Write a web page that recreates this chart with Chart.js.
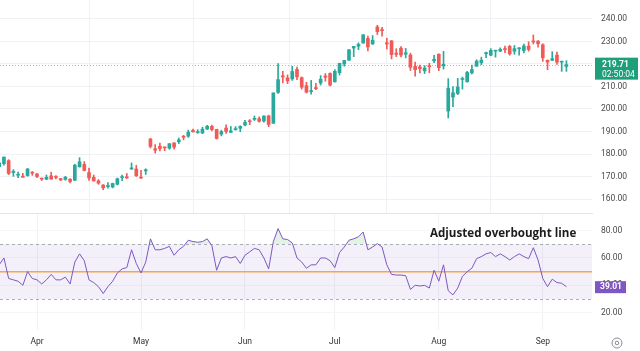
<!DOCTYPE html>
<html>
<head>
<meta charset="utf-8">
<script src="https://cdn.jsdelivr.net/npm/chart.js@4.4.0/dist/chart.umd.min.js"></script>
<style>
  html, body { margin: 0; padding: 0; background: #fff; }
  canvas { display: block; }
</style>
</head>
<body>
<canvas id="priceChart" width="640" height="214"></canvas>
<canvas id="rsiChart" width="640" height="137"></canvas>
<script>
// daily candles, Mar 19 -> Sep 10 (index 0..120)
const opens = [
  174.34,175.72,177.05,171.76,170.57,170.00,170.41,171.75,
  171.19,169.08,168.79,170.29,169.59, 169.03,168.70,168.80,168.34,174.26, 175.36,171.75,169.61,168.03,166.21, 165.52,165.35,166.54,169.53,169.88, 173.37,173.33,
  169.58,172.51,186.65, 182.35,183.45,182.85,182.56,184.90, 185.44,187.51,187.91,190.47,189.51, 189.33,191.09,192.27,190.98,188.82, 191.51,189.61,190.76,191.44,
  192.90,194.64,195.40,195.69,194.65, 196.90,193.65,207.37,214.74,213.85, 213.37,217.59,213.93,210.39, 207.72,209.15,211.50,214.69,215.77,
  212.09,216.15,220.00,221.65, 227.09,227.93,229.30,231.39,228.92, 236.48,235.00,229.45,230.28,224.82, 227.01,224.37,224.00,218.93,218.70, 216.96,219.19,221.44,
  224.37,219.15, 199.09,205.30,206.90,213.11,212.10, 216.07,219.01,220.57,224.60,223.92, 225.72,225.77,226.52,227.79,225.66, 226.76,226.00,227.92,230.10,230.19,
  228.55,221.66,221.63,223.95,220.82,218.92
];
const highs = [
  176.61,178.67,177.49,173.05,171.94,171.42,173.60,172.23,
  171.25,169.34,170.68,171.92,170.39, 169.20,170.08,169.09,175.46,178.36, 176.63,173.76,170.65,168.64,166.40, 167.26,167.05,169.30,170.61,171.34, 176.03,174.99,
  172.71,173.42,187.00, 184.20,184.90,183.07,184.66,185.09, 187.10,188.30,190.65,191.10,190.81, 191.92,192.73,192.82,191.00,190.58, 193.00,192.25,192.18,192.57,
  194.99,195.32,196.90,196.50,196.94, 197.30,207.16,220.20,216.75,215.17, 218.95,218.63,214.24,211.89, 212.70,211.38,214.86,215.74,216.07,
  217.51,220.38,221.55,226.45, 227.85,229.40,233.08,232.39,232.64, 237.23,236.27,231.46,230.44,226.80, 227.78,226.94,224.80,220.85,219.49, 219.30,220.33,223.82,
  224.48,225.60, 213.50,209.99,213.64,214.20,216.78, 219.51,221.89,223.03,225.35,226.83, 225.99,227.17,227.98,228.34,228.22, 227.28,228.85,229.86,232.92,230.40,
  229.00,221.78,225.48,225.24,221.27,221.48
];
const lows = [
  173.03,175.09,170.84,170.06,169.45,169.58,170.11,170.51,
  169.48,168.23,168.58,168.82,168.95, 168.24,168.35,167.11,168.16,174.21, 172.50,168.27,168.00,166.55,164.08, 164.77,164.92,166.21,168.15,169.18, 173.10,170.00,
  169.11,170.89,182.66, 180.42,181.32,181.45,182.11,182.13, 184.62,186.29,187.37,189.66,189.18, 189.01,190.92,190.27,186.63,188.04, 189.10,189.51,190.63,189.91,
  192.52,193.03,194.87,194.17,194.14, 192.15,193.63,206.90,211.60,211.30, 212.72,213.00,208.85,207.11, 206.59,208.61,210.64,212.35,210.30,
  211.92,215.10,219.03,221.65, 223.25,226.37,229.25,225.77,228.68, 233.09,232.33,226.64,222.27,223.28, 223.09,222.68,217.13,214.62,216.01, 215.75,216.12,220.63,
  217.02,217.71, 196.00,201.07,206.39,208.83,211.97, 215.60,219.01,219.70,222.76,223.65, 223.04,225.45,225.05,223.90,224.33, 223.89,224.89,225.68,228.88,227.48,
  221.17,217.48,221.52,219.77,216.71,216.73
];
const closes = [
  176.08,178.67,171.37,172.28,170.85,169.71,173.31,171.48,
  170.03,168.84,169.65,168.82,169.58, 168.45,169.67,167.78,175.04,176.55, 172.69,169.38,168.00,167.04,165.00, 165.84,166.90,169.02,169.89,169.30, 173.50,170.33,
  169.30,173.03,183.38, 181.71,182.40,182.74,184.57,183.05, 186.28,187.43,189.72,189.84,189.87, 191.04,192.35,190.90,186.88,189.98, 189.99,190.29,191.29,192.25,
  194.03,194.35,195.87,194.48,196.89, 193.12,207.15,213.07,214.24,212.49, 216.67,214.29,209.68,207.49, 208.14,209.07,213.25,214.10,210.62,
  216.75,220.27,221.55,226.34, 227.82,228.68,232.98,227.57,230.54, 234.40,234.82,228.88,224.18,224.31, 223.96,225.01,218.54,217.49,217.96, 218.24,218.80,222.08,
  218.36,219.86, 209.27,207.23,209.82,213.31,216.24, 217.53,221.27,221.72,224.72,226.05, 225.89,226.51,226.40,224.53,226.84, 227.18,228.03,226.49,229.79,229.00,
  222.77,220.85,222.38,220.82,220.91,219.71
];
const rsi = [
  55,60,45,44,43,40,50,45,
  44,41,44,48,44, 44,46,41,57,63, 58,44,42,39,34, 39,43,49,52,53, 66,56,
  49,57,74, 66,66,67,68.5,62, 66,68.5,73,72,71.5, 72,74,69,51,60, 61,60,61,56,
  62,64.5,67,66,60, 52,72,81.5,74,73.5, 71,60,57,52.5, 55,55,60,60,58,
  53,64,68,73, 74,75.5,79,66,68, 70.5,68,55,48,47.5, 47.5,47,37,40,39.5, 40,38,51,
  43,55, 36,33,38,46.5,50, 52.5,59.5,61,63,64, 61,63,61,58.5,61, 63,61,59.5,67.5,58.5,
  45,39,44.5,42,41.5,39.01
];

const monthTicks = [8, 30, 52, 71, 93, 115];
const monthLabels = ['Apr', 'May', 'Jun', 'Jul', 'Aug', 'Sep'];
const priceTicks = [160, 170, 180, 190, 200, 210, 220, 230, 240];
const rsiTicks = [20, 40, 60, 80];
const lastPrice = 219.71;
const countdown = '02:50:04';
const lastRsi = 39.01;
const overbought = 70, midLine = 50, oversold = 30;
const note = 'Adjusted overbought line';

const upColor = '#2aa89b';
const downColor = '#f05a57';
const candleColors = closes.map((c, i) => c >= opens[i] ? upColor : downColor);

const xMin = 0.17, xMax = 125.41;
const axisFont = { family: 'Roboto', size: 8.5 };
const gridColor = '#f0f1f4';

function fixY(s) { s.width = 48; s.paddingTop = 0; s.paddingBottom = 0; }

function timeAxis(showLabels) {
  return {
    type: 'linear', min: xMin, max: xMax, offset: false,
    afterBuildTicks: s => { s.ticks = monthTicks.map(v => ({ value: v })); },
    afterFit: s => { s.height = showLabels ? 21 : 1; s.paddingLeft = 0; s.paddingRight = 0; },
    grid: { color: gridColor, drawTicks: false },
    border: { display: !showLabels, color: '#e3e5ea' },
    ticks: {
      display: showLabels, autoSkip: false, maxRotation: 0, padding: 7,
      color: '#333', font: axisFont,
      callback: v => monthLabels[monthTicks.indexOf(v)]
    }
  };
}

const priceOverlay = {
  id: 'priceOverlay',
  beforeDatasetsDraw(chart) {
    const { ctx, chartArea: a, scales: { y } } = chart;
    const py = Math.round(y.getPixelForValue(lastPrice)) + 0.5;
    ctx.save();
    ctx.strokeStyle = '#b3b6be';
    ctx.lineWidth = 1;
    ctx.setLineDash([1, 2]);
    ctx.beginPath();
    ctx.moveTo(a.left, py);
    ctx.lineTo(a.right, py);
    ctx.stroke();
    ctx.restore();
  },
  afterDraw(chart) {
    const { ctx, chartArea: a, scales: { y } } = chart;
    const py = y.getPixelForValue(lastPrice);
    ctx.save();
    ctx.fillStyle = '#1f9e7a';
    ctx.fillRect(a.right + 3, py - 7, 43, 22);
    ctx.fillStyle = '#fff';
    ctx.textBaseline = 'middle';
    ctx.textAlign = 'left';
    ctx.font = 'bold 8.5px Roboto';
    ctx.fillText(lastPrice.toFixed(2), a.right + 10, py + 0.5);
    ctx.font = '8.5px Roboto';
    ctx.fillText(countdown, a.right + 10, py + 10.5);
    ctx.restore();
  }
};

const rsiOverlay = {
  id: 'rsiOverlay',
  beforeDatasetsDraw(chart) {
    const { ctx, chartArea: a, scales: { y } } = chart;
    const yTop = y.getPixelForValue(overbought);
    const yBot = y.getPixelForValue(oversold);
    const yMid = y.getPixelForValue(midLine);
    ctx.save();
    ctx.fillStyle = 'rgba(126,87,194,0.09)';
    ctx.fillRect(a.left, yTop, a.right - a.left, yBot - yTop);
    ctx.strokeStyle = 'rgba(120,123,134,0.6)';
    ctx.lineWidth = 1;
    ctx.setLineDash([3, 3]);
    [yTop, yBot].forEach(v => {
      ctx.beginPath();
      ctx.moveTo(a.left, Math.round(v) + 0.5);
      ctx.lineTo(a.right, Math.round(v) + 0.5);
      ctx.stroke();
    });
    ctx.setLineDash([]);
    ctx.strokeStyle = '#f5a54e';
    ctx.lineWidth = 1.5;
    ctx.beginPath();
    ctx.moveTo(a.left, yMid);
    ctx.lineTo(a.right, yMid);
    ctx.stroke();
    ctx.restore();
  },
  afterDraw(chart) {
    const { ctx, chartArea: a, scales: { y } } = chart;
    const py = y.getPixelForValue(lastRsi);
    ctx.save();
    ctx.fillStyle = '#7e57c2';
    ctx.fillRect(a.right + 3, py - 5.5, 31, 12);
    ctx.fillStyle = '#fff';
    ctx.textBaseline = 'middle';
    ctx.font = 'bold 8.5px Roboto';
    ctx.fillText(lastRsi.toFixed(2), a.right + 8, py + 0.5);

    ctx.fillStyle = '#1c1c1c';
    ctx.textBaseline = 'alphabetic';
    ctx.font = 'bold 11.6px "Open Sans"';
    ctx.fillText(note, 430, 22.7);

    ctx.strokeStyle = '#8a8d96';
    ctx.lineWidth = 1;
    ctx.beginPath();
    ctx.arc(617, 129, 5, 0, Math.PI * 2);
    ctx.stroke();
    ctx.beginPath();
    ctx.arc(617, 129, 1.8, 0, Math.PI * 2);
    ctx.stroke();
    ctx.restore();
  }
};

const common = {
  responsive: false,
  animation: false,
  events: [],
  layout: { padding: 0 },
  plugins: { legend: { display: false }, tooltip: { enabled: false } }
};

new Chart(document.getElementById('priceChart'), {
  type: 'bar',
  data: {
    datasets: [
      {
        data: lows.map((l, i) => ({ x: i, y: [l, highs[i]] })),
        backgroundColor: candleColors,
        barThickness: 1, grouped: false, borderWidth: 0, order: 2
      },
      {
        data: opens.map((o, i) => ({ x: i, y: [o, closes[i]] })),
        backgroundColor: candleColors,
        barThickness: 3, grouped: false, borderWidth: 0, minBarLength: 1, order: 1
      }
    ]
  },
  options: {
    ...common,
    scales: {
      x: timeAxis(false),
      y: {
        position: 'right', min: 153.78, max: 248.44,
        afterBuildTicks: s => { s.ticks = priceTicks.map(v => ({ value: v })); },
        afterFit: fixY,
        grid: { color: gridColor, drawTicks: false },
        border: { display: false },
        ticks: { padding: 9, color: '#4a4a4a', font: axisFont, callback: v => v.toFixed(2) }
      }
    }
  },
  plugins: [priceOverlay]
});

new Chart(document.getElementById('rsiChart'), {
  type: 'line',
  data: {
    datasets: [{
      data: rsi.map((v, i) => ({ x: i, y: v })),
      borderColor: '#7e57c2',
      borderWidth: 1,
      pointRadius: 0,
      tension: 0,
      fill: { target: { value: overbought }, above: 'rgba(76,175,80,0.16)', below: 'transparent' }
    }]
  },
  options: {
    ...common,
    scales: {
      x: timeAxis(true),
      y: {
        position: 'right', min: 7.31, max: 92.17,
        afterBuildTicks: s => { s.ticks = rsiTicks.map(v => ({ value: v })); },
        afterFit: fixY,
        grid: { color: '#f5f6f8', drawTicks: false },
        border: { display: false },
        ticks: { padding: 9, color: '#4a4a4a', font: axisFont, callback: v => v.toFixed(2) }
      }
    }
  },
  plugins: [rsiOverlay]
});
</script>
</body>
</html>
